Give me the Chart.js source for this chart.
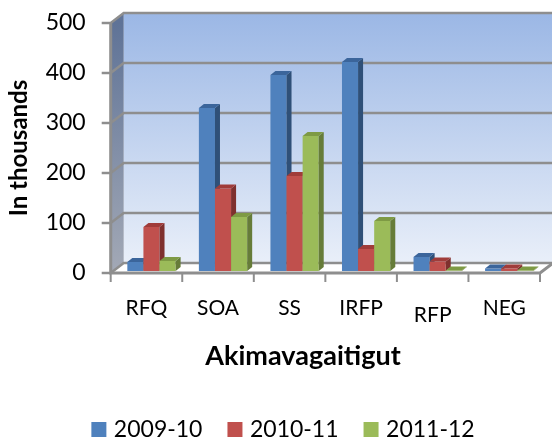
<!DOCTYPE html>
<html>
<head>
<meta charset="utf-8">
<style>
  html, body { margin: 0; padding: 0; background: #fff; }
  canvas { display: block; }
</style>
<script src="https://cdn.jsdelivr.net/npm/chart.js@4"></script>
</head>
<body>
<canvas id="chart" width="552" height="438"></canvas>
<script>
const categories = ['RFQ', 'SOA', 'SS', 'IRFP', 'RFP', 'NEG'];
const values0910 = [18, 326, 392, 418, 28, 5];
const values1011 = [88, 165, 190, 44, 19, 5];
const values1112 = [20, 108, 270, 100, 1, 1];
const seriesNames = ['2009-10', '2010-11', '2011-12'];
const seriesColors = ['#4f81bd', '#c0504d', '#9bbb59'];
const sideColors = ['#2f5078', '#7f302e', '#667c39'];
const topColors = ['#3b659b', '#a03c3a', '#7e9a44'];

const FONT = 'Lato, Carlito, sans-serif';
const GREY = '#8e8e8e';
// 3d look: how far the back wall sits from the front axes
const wallDx = 13, wallDy = -10;
const depthDx = 5, depthDy = -4;

const walls = {
  id: 'walls',
  afterLayout(chart) {
    // the original legend sits lower than the default spot
    const legend = chart.legend;
    legend.left += 11;
    legend.right += 11;
    legend.top += 13;
    legend.bottom += 13;
  },
  beforeDatasetsDraw(chart) {
    const { ctx, chartArea: { left, right, top, bottom }, scales: { y } } = chart;
    ctx.save();

    // back wall
    let grad = ctx.createLinearGradient(0, top + wallDy, 0, bottom + wallDy);
    grad.addColorStop(0, '#9bb7e5');
    grad.addColorStop(1, '#e9eff9');
    ctx.fillStyle = grad;
    ctx.fillRect(left + wallDx, top + wallDy, right - left, bottom - top);

    // side wall
    grad = ctx.createLinearGradient(0, top, 0, bottom);
    grad.addColorStop(0, '#5f7397');
    grad.addColorStop(1, '#a3a9b6');
    ctx.fillStyle = grad;
    ctx.beginPath();
    ctx.moveTo(left, top);
    ctx.lineTo(left + wallDx, top + wallDy);
    ctx.lineTo(left + wallDx, bottom + wallDy);
    ctx.lineTo(left, bottom);
    ctx.closePath();
    ctx.fill();

    // floor
    ctx.fillStyle = '#ffffff';
    ctx.beginPath();
    ctx.moveTo(left, bottom);
    ctx.lineTo(left + wallDx, bottom + wallDy);
    ctx.lineTo(right + wallDx, bottom + wallDy);
    ctx.lineTo(right, bottom);
    ctx.closePath();
    ctx.fill();

    // gridlines go along the wall and bend down to the tick
    ctx.strokeStyle = GREY;
    ctx.lineWidth = 2.5;
    y.ticks.forEach((t) => {
      const py = y.getPixelForValue(t.value);
      ctx.beginPath();
      ctx.moveTo(left - 9, py);
      ctx.lineTo(left, py);
      ctx.lineTo(left + wallDx, py + wallDy);
      ctx.lineTo(right + wallDx, py + wallDy);
      ctx.stroke();
    });

    // front axes
    ctx.lineWidth = 3;
    ctx.beginPath();
    ctx.moveTo(left, top);
    ctx.lineTo(left, bottom);
    ctx.lineTo(right, bottom);
    ctx.lineTo(right + wallDx, bottom + wallDy);
    ctx.stroke();

    // x ticks between the categories
    ctx.lineWidth = 2;
    const step = (right - left) / categories.length;
    for (let i = 0; i <= categories.length; i++) {
      ctx.beginPath();
      ctx.moveTo(left + step * i, bottom);
      ctx.lineTo(left + step * i, bottom + 9);
      ctx.stroke();
    }
    ctx.restore();
  },
  // the library paints the last dataset first, here blue has to go down first
  beforeDatasetDraw() {
    return false;
  },
  afterDatasetsDraw(chart) {
    const { ctx, chartArea: { bottom }, scales: { x } } = chart;

    // bars stand a little inside the floor
    ctx.save();
    ctx.translate(5, -2);
    chart.data.datasets.forEach((ds, i) => {
      const meta = chart.getDatasetMeta(i);
      meta.controller.draw();
      meta.data.forEach((bar) => {
        const l = bar.x - bar.width / 2;
        const r = bar.x + bar.width / 2;
        // side
        ctx.fillStyle = sideColors[i];
        ctx.beginPath();
        ctx.moveTo(r, bar.y);
        ctx.lineTo(r + depthDx, bar.y + depthDy);
        ctx.lineTo(r + depthDx, bar.base + depthDy);
        ctx.lineTo(r, bar.base);
        ctx.closePath();
        ctx.fill();
        // top
        ctx.fillStyle = topColors[i];
        ctx.beginPath();
        ctx.moveTo(l, bar.y);
        ctx.lineTo(l + depthDx, bar.y + depthDy);
        ctx.lineTo(r + depthDx, bar.y + depthDy);
        ctx.lineTo(r, bar.y);
        ctx.closePath();
        ctx.fill();
      });
    });
    ctx.restore();

    // category labels, RFP sits lower in the original
    ctx.save();
    ctx.fillStyle = '#000';
    ctx.textAlign = 'center';
    ctx.textBaseline = 'middle';
    ctx.font = '21px ' + FONT;
    categories.forEach((c, i) => {
      ctx.fillText(c, x.getPixelForValue(i), c === 'RFP' ? bottom + 42 : bottom + 35);
    });
    // axis title is off centre in the original
    ctx.font = 'bold 27px ' + FONT;
    ctx.fillText('Akimavagaitigut', 303, bottom + 83);
    ctx.restore();
  },
  afterDraw(chart) {
    // legend squares sit closer to their text than the library puts them
    const { ctx } = chart;
    ctx.save();
    chart.legend.legendHitBoxes.forEach((hit, i) => {
      ctx.fillStyle = seriesColors[i];
      ctx.fillRect(hit.left + 4, hit.top + hit.height / 2 - 7.5, 15, 15);
    });
    ctx.restore();
  }
};

new Chart(document.getElementById('chart'), {
  type: 'bar',
  data: {
    labels: categories,
    datasets: [
      { label: seriesNames[0], data: values0910, backgroundColor: seriesColors[0] },
      { label: seriesNames[1], data: values1011, backgroundColor: seriesColors[1] },
      { label: seriesNames[2], data: values1112, backgroundColor: seriesColors[2] }
    ]
  },
  plugins: [walls],
  options: {
    responsive: false,
    animation: false,
    layout: { padding: { top: 23, right: 12, left: 0, bottom: 0 } },
    datasets: { bar: { categoryPercentage: 0.675, barPercentage: 1 } },
    scales: {
      x: {
        grid: { display: false },
        border: { display: false },
        ticks: { display: false },
        afterFit(scale) { scale.height = 111; }
      },
      y: {
        min: 0,
        max: 500,
        grid: { display: false },
        border: { display: false },
        ticks: {
          stepSize: 100,
          color: '#000',
          padding: 17,
          font: { family: FONT, size: 23 }
        },
        title: {
          display: true,
          text: 'In thousands',
          color: '#000',
          font: { family: FONT, size: 24, weight: 'bold' },
          padding: { top: 5, bottom: 0 }
        },
        afterFit(scale) {
          scale.width = 110.7;
          // no extra room for the half height of the top label
          scale.paddingTop = 0;
          scale.paddingBottom = 0;
        }
      }
    },
    plugins: {
      title: { display: false },
      tooltip: { enabled: false },
      legend: {
        position: 'bottom',
        labels: {
          color: '#000',
          boxWidth: 15,
          boxHeight: 15,
          padding: 21,
          font: { family: FONT, size: 23 },
          generateLabels(chart) {
            const items = Chart.defaults.plugins.legend.labels.generateLabels(chart);
            items.forEach((item) => { item.fillStyle = 'transparent'; item.strokeStyle = 'transparent'; item.lineWidth = 0; });
            return items;
          }
        }
      }
    }
  }
});
</script>
</body>
</html>
